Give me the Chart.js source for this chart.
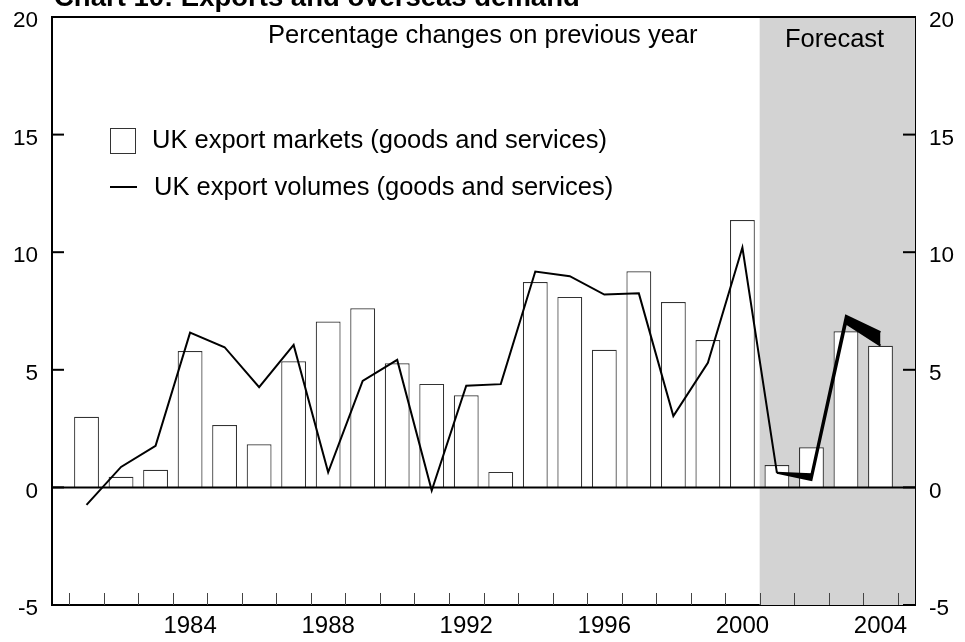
<!DOCTYPE html>
<html>
<head>
<meta charset="utf-8">
<script src="https://cdn.jsdelivr.net/npm/chart.js@4"></script>
<style>
html,body{margin:0;padding:0;background:#fff;}
#wrap{position:relative;width:965px;height:642px;}
</style>
</head>
<body>
<div id="wrap"><canvas id="c" width="965" height="642"></canvas></div>
<script>
const years = [1981,1982,1983,1984,1985,1986,1987,1988,1989,1990,1991,1992,1993,1994,1995,1996,1997,1998,1999,2000,2001,2002,2003,2004];
const marketGrowth = [3.0,0.45,0.75,5.8,2.65,1.83,5.36,7.05,7.62,5.28,4.4,3.92,0.66,8.73,8.1,5.85,9.19,7.88,6.27,11.37,0.95,1.71,6.64,6.02];
const volumeYears = [1981,1982,1983,1984,1985,1986,1987,1988,1989,1990,1991,1992,1993,1994,1995,1996,1997,1998,1999,2000,2001];
const volumeGrowth = [-0.74,0.87,1.77,6.58,5.96,4.26,6.06,0.64,4.53,5.42,-0.13,4.32,4.39,9.18,8.98,8.2,8.25,3.03,5.3,10.2,0.62];
const forecastYears = [2001,2002,2003,2004];
const forecastUpper = [0.62,0.56,7.3,6.6];
const forecastLower = [0.62,0.31,6.97,6.03];
const xTickYears = [1984,1988,1992,1996,2000,2004];
const yTicks = [-5,0,5,10,15,20];
const forecastStart = 2000.5;

const pts = (xs, ys) => xs.map((x, i) => ({x: x, y: ys[i]}));
const FONT = 'Liberation Sans, Arial, sans-serif';

const decor = {
  id: 'decor',
  beforeDatasetsDraw(chart) {
    const {ctx, chartArea: a, scales: {x}} = chart;
    ctx.save();
    const xs = x.getPixelForValue(forecastStart);
    ctx.fillStyle = '#d3d3d3';
    ctx.fillRect(xs, a.top, a.right - xs, a.bottom - a.top);
    ctx.restore();
  },
  afterDatasetsDraw(chart) {
    const {ctx, chartArea: a, scales: {x, y}} = chart;
    ctx.save();
    ctx.strokeStyle = '#000';
    ctx.lineWidth = 2;
    const y0 = y.getPixelForValue(0);
    ctx.beginPath(); ctx.moveTo(a.left, y0); ctx.lineTo(a.right, y0); ctx.stroke();
    ctx.beginPath(); ctx.moveTo(a.left, a.top); ctx.lineTo(a.right, a.top); ctx.stroke();
    yTicks.forEach(v => {
      const py = y.getPixelForValue(v);
      ctx.beginPath(); ctx.moveTo(a.left, py); ctx.lineTo(a.left + 12, py); ctx.stroke();
      ctx.beginPath(); ctx.moveTo(a.right, py); ctx.lineTo(a.right - 12, py); ctx.stroke();
    });
    ctx.strokeStyle = '#444';
    ctx.lineWidth = 1;
    const bounds = years.map(v => v - 0.5).concat([years[years.length - 1] + 0.5]);
    bounds.forEach(v => {
      const px = Math.round(x.getPixelForValue(v)) + 0.5;
      ctx.beginPath(); ctx.moveTo(px, a.bottom); ctx.lineTo(px, a.bottom - 12); ctx.stroke();
    });
    ctx.fillStyle = '#000';
    ctx.textBaseline = 'middle';
    ctx.font = '25.5px ' + FONT;
    ctx.textAlign = 'left';
    ctx.fillText('Percentage changes on previous year', 268, 36);
    ctx.fillText('Forecast', 785, 40);
    ctx.fillText('UK export markets (goods and services)', 152, 141);
    ctx.fillText('UK export volumes (goods and services)', 154, 188);
    ctx.strokeStyle = '#333';
    ctx.lineWidth = 1;
    ctx.fillStyle = '#fff';
    ctx.fillRect(110.5, 128.5, 25, 25);
    ctx.strokeRect(110.5, 128.5, 25, 25);
    ctx.strokeStyle = '#000';
    ctx.lineWidth = 2;
    ctx.beginPath(); ctx.moveTo(110, 187); ctx.lineTo(137, 187); ctx.stroke();
    ctx.fillStyle = '#000';
    ctx.textBaseline = 'alphabetic';
    ctx.font = 'bold 27.5px ' + FONT;
    ctx.fillText('Chart 10: Exports and overseas demand', 54, 6);
    ctx.restore();
  }
};

const noPad = s => { s.paddingTop = 0; s.paddingBottom = 0; s.paddingLeft = 0; s.paddingRight = 0; };

new Chart(document.getElementById('c'), {
  data: {
    datasets: [
      {type: 'line', label: 'UK export volumes (goods and services)', data: pts(volumeYears, volumeGrowth),
       borderColor: '#000', borderWidth: 2, pointRadius: 0, tension: 0, fill: false, order: 1},
      {type: 'line', label: 'forecast upper', data: pts(forecastYears, forecastUpper),
       borderColor: '#000', borderWidth: 2, pointRadius: 0, tension: 0, fill: false, order: 1},
      {type: 'line', label: 'forecast lower', data: pts(forecastYears, forecastLower),
       borderColor: '#000', borderWidth: 2, pointRadius: 0, tension: 0, fill: '-1', backgroundColor: '#000', order: 1},
      {type: 'bar', label: 'UK export markets (goods and services)', data: pts(years, marketGrowth),
       backgroundColor: '#fff', borderColor: '#333', borderWidth: 1.2,
       barPercentage: 0.72, categoryPercentage: 1, order: 2}
    ]
  },
  options: {
    responsive: false,
    animation: false,
    devicePixelRatio: 1,
    layout: {autoPadding: false, padding: {top: 17, left: 0, right: 0, bottom: 0}},
    plugins: {legend: {display: false}, tooltip: {enabled: false}, title: {display: false}, filler: {propagate: false}},
    scales: {
      x: {
        type: 'linear', min: 1980, max: 2005, offset: false,
        afterBuildTicks: s => { s.ticks = xTickYears.map(v => ({value: v})); },
        ticks: {font: {family: FONT, size: 24}, color: '#000', padding: 7, maxRotation: 0, autoSkip: false,
                callback: v => String(v)},
        grid: {display: false, drawTicks: false},
        border: {display: true, color: '#000', width: 2},
        afterFit: s => { s.height = 37; noPad(s); }
      },
      y: {
        position: 'left', min: -5, max: 20,
        afterBuildTicks: s => { s.ticks = yTicks.map(v => ({value: v})); },
        ticks: {font: {family: FONT, size: 22.5}, color: '#000', padding: 14, labelOffset: 4},
        grid: {display: false, drawTicks: false},
        border: {display: true, color: '#000', width: 2},
        afterFit: s => { s.width = 52; noPad(s); }
      },
      y2: {
        position: 'right', min: -5, max: 20,
        afterBuildTicks: s => { s.ticks = yTicks.map(v => ({value: v})); },
        ticks: {font: {family: FONT, size: 22.5}, color: '#000', padding: 14, labelOffset: 4},
        grid: {display: false, drawTicks: false},
        border: {display: true, color: '#000', width: 2},
        afterFit: s => { s.width = 50; noPad(s); }
      }
    }
  },
  plugins: [decor]
});
</script>
</body>
</html>
